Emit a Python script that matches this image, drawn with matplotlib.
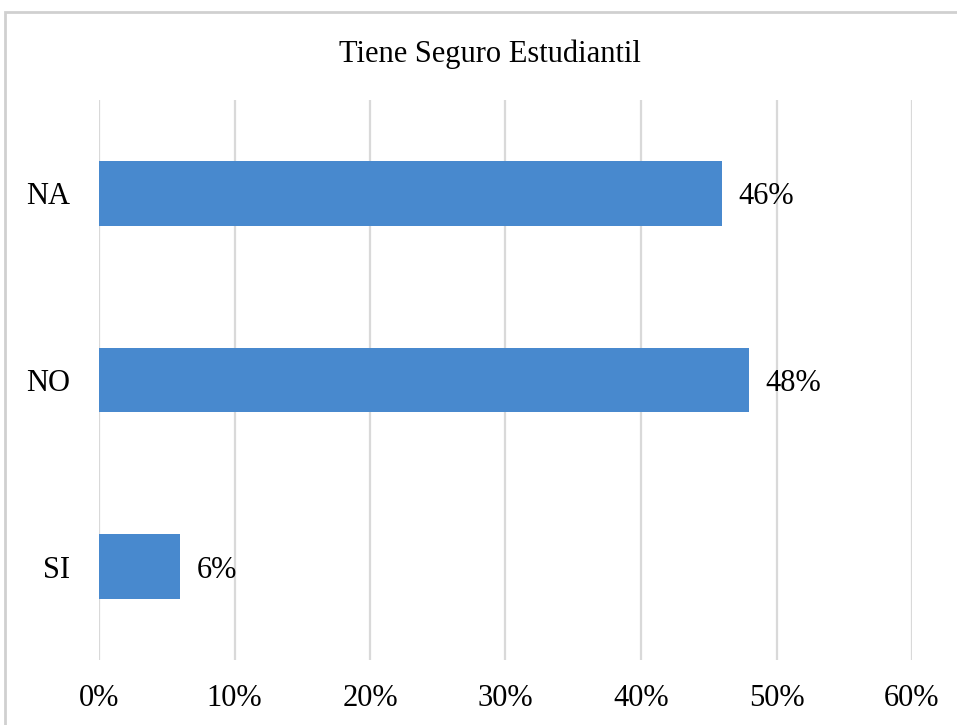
import matplotlib
matplotlib.use("Agg")
import matplotlib.pyplot as plt
from matplotlib.patches import Rectangle

categories = ["SI", "NO", "NA"]
values = [6, 48, 46]
labels = ["6%", "48%", "46%"]
xticks = [0, 10, 20, 30, 40, 50, 60]
xticklabels = ["0%", "10%", "20%", "30%", "40%", "50%", "60%"]

plt.rcParams['font.family'] = ['Liberation Serif', 'DejaVu Serif']

W, H = 957, 725
fig = plt.figure(figsize=(W/100, H/100), dpi=100)
ax = fig.add_axes([99/W, 1-660/H, (912-99)/W, 560/H])

bars = ax.barh(range(len(categories)), values, height=0.345, color='#4889CE', zorder=3)
for b, lab in zip(bars, labels):
    ax.text(b.get_width() + 1.2, b.get_y() + b.get_height()/2, lab,
            va='center_baseline', ha='left', fontsize=22, color='black')

ax.set_xlim(0, 60)
ax.set_ylim(-0.5, len(categories) - 0.5)
ax.set_xticks(xticks)
ax.set_xticklabels(xticklabels, fontsize=22, color='black')
ax.set_yticks(range(len(categories)))
ax.set_yticklabels(categories, fontsize=22, color='black')
ax.tick_params(axis='both', length=0)
ax.tick_params(axis='x', pad=17)
ax.tick_params(axis='y', pad=21)
ax.grid(axis='x', color='#d9d9d9', linewidth=1.6, zorder=0)
for s in ax.spines.values():
    s.set_visible(False)

fig.text(490/W, 1-54/H, "Tiene Seguro Estudiantil", ha='center', va='center',
         fontsize=22, color='black')

fig.patches.append(Rectangle((5/W, -0.1), 2.0, 1 - 12/H + 0.1, transform=fig.transFigure,
                             fill=False, edgecolor='#d0d0d0', linewidth=2))

fig.savefig("out.png", dpi=100)
